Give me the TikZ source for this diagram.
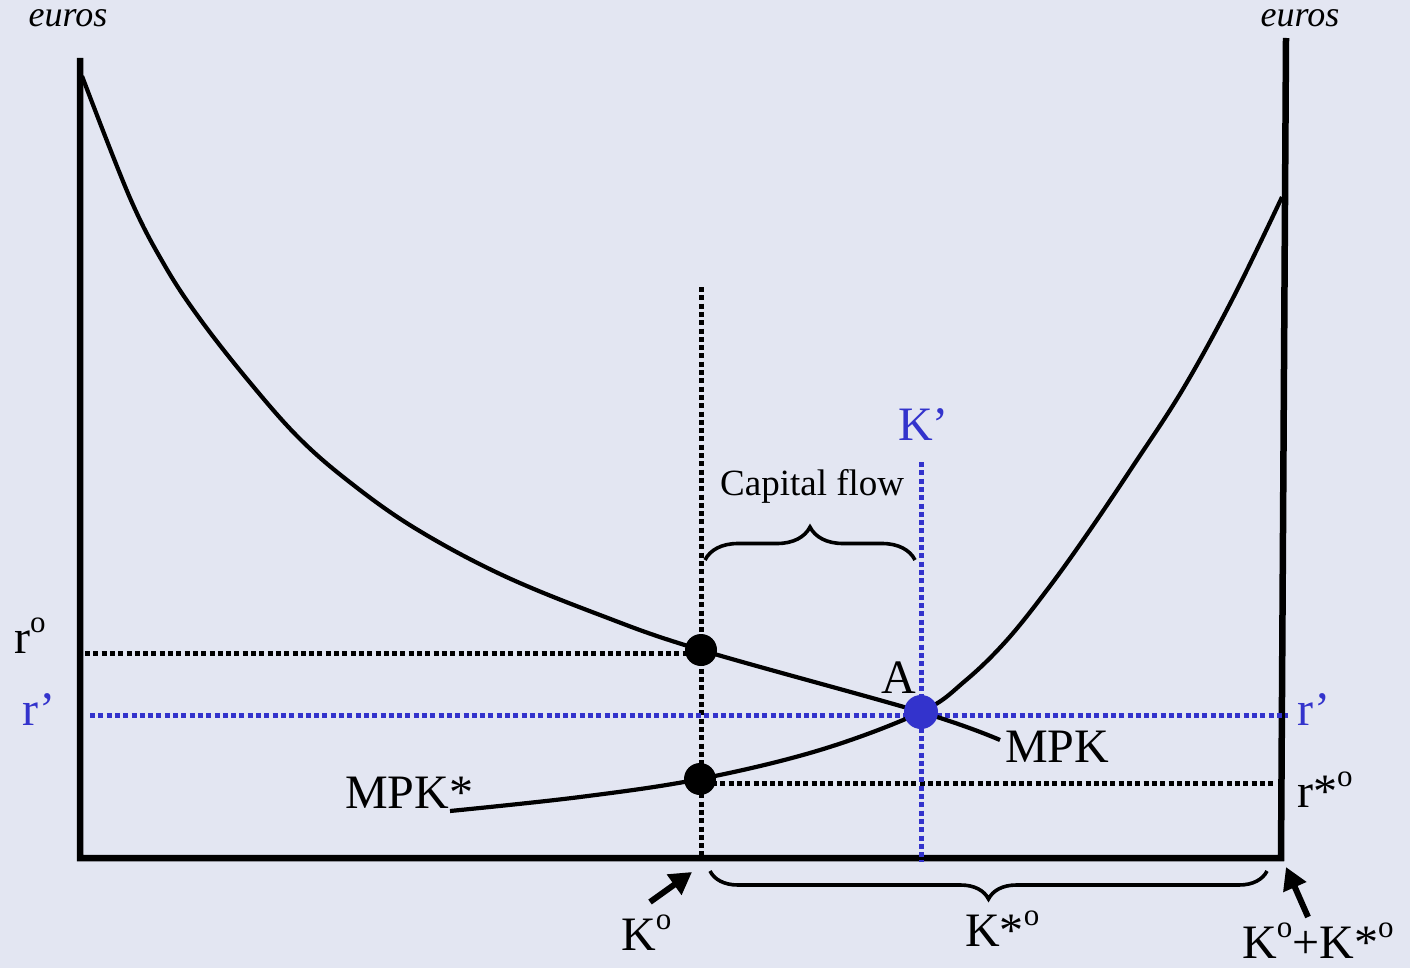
\documentclass[tikz,border=0pt]{standalone}
\usepackage{fontspec}
\setmainfont{Liberation Serif}
\usetikzlibrary{arrows.meta,positioning,decorations.pathreplacing}
\definecolor{panelbg}{RGB}{227,230,242}
\definecolor{flowblue}{RGB}{51,51,204}
\newcommand{\supo}{\raisebox{0.42em}{\fontsize{31}{31}\selectfont o}}

\begin{document}
\begin{tikzpicture}[
  x=1pt,y=-1pt,
  axis/.style={line width=6.5pt},
  curve/.style={line width=4.2pt},
  guide/.style={line width=5pt,dash pattern=on 5pt off 3.3pt},
  blueguide/.style={guide,draw=flowblue},
  dot/.style={circle,fill,inner sep=0pt,minimum size=32pt},
  lbl/.style={font=\fontsize{48}{52}\selectfont,inner sep=0pt,anchor=base west},
  unit/.style={font=\fontsize{36}{40}\selectfont\itshape,inner sep=0pt},
  brc/.style={decorate,line width=3.6pt},
  pointer/.style={-{Triangle[length=22pt,width=24pt]},line width=6pt}
]
\fill[panelbg] (0,0) rectangle (1410,968);
% axes (home at left, foreign at right)
\coordinate (ytop) at (80,58);
\coordinate (orig) at (80,858);
\coordinate (origstar) at (1281,858);
\coordinate (ystartop) at (1286,38);
\draw[axis] (ytop) -- (orig) -- (origstar) -- (ystartop);
\node[unit] (euro) at (68,18) {euros};
\node[unit] (eurostar) at (1300,18) {euros};
% guide lines
\coordinate (kotop) at (701,287);
\coordinate (kobot) at (701,858);
\coordinate (roleft) at (85,653);
\coordinate (roright) at (690,653);
\coordinate (rsleft) at (712,783);
\coordinate (rsright) at (1275,783);
\coordinate (rpleft) at (90,715);
\coordinate (rpright) at (1288,715);
\coordinate (kptop) at (921,462);
\coordinate (kpbot) at (921,862);
\draw[guide] (kotop) -- (kobot);
\draw[guide] (roleft) -- (roright);
\draw[guide] (rsleft) -- (rsright);
\draw[blueguide] (rpleft) -- (rpright);
\draw[blueguide] (kptop) -- (kpbot);
% MPK and MPK*
\draw[curve] plot[smooth,tension=0.6] coordinates {(82,76) (130,198) (165,266) (200,319) (247,379) (297,436) (347,480) (413,527) (500,574) (600,615) (701,650) (921,712) (1000,740)};
\draw[curve] plot[smooth,tension=0.6] coordinates {(450,811) (580,797) (700,779) (820,750) (921,712) (965,681) (1007,640) (1050,586) (1090,530) (1133,466) (1183,389) (1233,298) (1282,197)};
% points
\node[dot] (home) at (701,650) {};
\node[dot] (foreign) at (700,779) {};
\node[dot,fill=flowblue,minimum size=34pt] (eqA) at (921,712) {};
% labels
\node[lbl] (ro) at (14,653) {r\supo};
\node[lbl,text=flowblue] (rp) at (22,725) {r’};
\node[lbl,text=flowblue] (rpstar) at (1297,725) {r’};
\node[lbl] (rso) at (1297,807) {r*\supo};
\node[lbl] (mpkstar) at (345,808) {MPK*};
\node[lbl] (mpk) at (1005,762) {MPK};
\node[lbl] (alab) at (881,693) {A};
\node[lbl,text=flowblue] (kp) at (898,440) {K’};
\node[lbl,font=\fontsize{37}{40}\selectfont] (flow) at (720,495) {Capital flow};
\node[lbl] (ko) at (621,950) {K\supo};
\node[lbl] (kso) at (965,946) {K*\supo};
\node[lbl] (ktot) at (1242,958) {K\supo+K*\supo};
% braces
\coordinate (flowa) at (705,560);
\coordinate (flowb) at (915,560);
\coordinate (ksa) at (1267,871);
\coordinate (ksb) at (710,871);
\draw[brc,decoration={brace,amplitude=33pt}] (flowa) -- (flowb);
\draw[brc,decoration={brace,amplitude=28pt}] (ksa) -- (ksb);
% arrows
\coordinate (koarr) at (650,902);
\coordinate (kotip) at (692,872);
\coordinate (ktarr) at (1308,917);
\coordinate (kttip) at (1286,867);
\draw[pointer] (koarr) -- (kotip);
\draw[pointer] (ktarr) -- (kttip);
\end{tikzpicture}
\end{document}
